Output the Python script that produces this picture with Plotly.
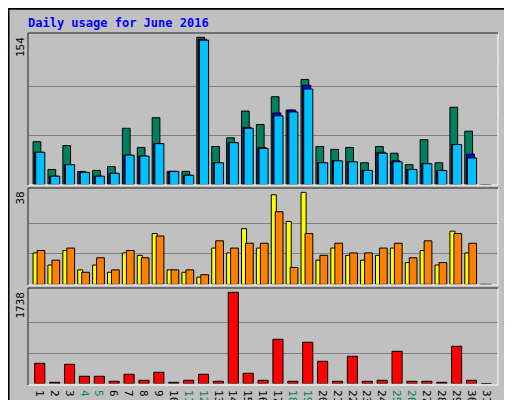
import plotly.graph_objects as go
from plotly.subplots import make_subplots

days = list(range(1, 32))
hits =  [45,16,41,14,15,19,59,39,70,14,14,154,40,49,77,63,92,78,110,40,37,39,23,40,33,21,47,23,81,56,0]
files = [34,9,21,13,9,12,31,30,43,14,10,152,23,44,60,39,75,78,104,23,25,24,15,34,25,16,22,15,42,32,0]
pages = [34,9,21,13,9,12,31,30,43,14,10,151,23,44,59,38,72,76,100,23,25,24,15,33,24,16,22,15,42,28,0]
visits = [13,8,14,6,8,5,13,12,21,6,5,3,15,13,23,15,37,26,38,10,15,12,10,12,15,9,14,8,22,13,0]
sites =  [14,10,15,5,11,6,14,11,20,6,6,4,18,15,17,17,30,7,21,12,17,13,13,15,17,11,18,9,21,17,0]
kbytes = [387,25,368,140,140,44,178,63,216,25,63,178,44,1738,197,63,844,44,787,425,44,520,44,63,615,44,44,25,710,63,0]
weekend = [4,5,11,12,18,19,25,26]
maxes = ["154", "38", "1738"]
title = "Daily usage for June 2016"

GREEN = "#00805C"
fig = make_subplots(rows=3, cols=1, shared_xaxes=True)
ln = dict(color="black", width=1)
def bar(y, color, off, w, row):
    fig.add_trace(go.Bar(x=days, y=y, offset=off, width=w, marker=dict(color=color, line=ln),
                         showlegend=False, hoverinfo="skip"), row=row, col=1)
bar(hits, GREEN, -0.56, 0.52, 1)
bar(files, "#0000FF", -0.46, 0.55, 1)
bar(pages, "#00C0FF", -0.38, 0.61, 1)
bar(visits, "#FFFF00", -0.56, 0.34, 2)
bar(sites, "#FF8000", -0.29, 0.52, 2)
bar(kbytes, "#FF0000", -0.45, 0.68, 3)

F = "DejaVu Sans Mono"
ticktext = [f'<span style="color:{GREEN if d in weekend else "black"}">{d}</span>' for d in days]
fig.update_layout(width=512, height=400, margin=dict(l=0, r=0, t=0, b=0),
                  paper_bgcolor="#C0C0C0", plot_bgcolor="#C0C0C0", barmode="overlay",
                  font=dict(family=F, size=11, color="black"))
ranges = [158.5, 39.8, 1820]
doms = [[0.558, 0.9375], [0.309, 0.55], [0.061, 0.3]]
for i in range(3):
    top = float(maxes[i])
    fig.update_yaxes(row=i+1, col=1, range=[0, ranges[i]], domain=doms[i],
                     tickvals=[top/3, 2*top/3], showticklabels=False, gridcolor="#808080",
                     gridwidth=1, zeroline=False, showline=False, ticks="")
    fig.update_xaxes(row=i+1, col=1, range=[0.1, 31.67], domain=[20/512, 490/512],
                     showgrid=False, zeroline=False,
                     showline=False, ticks="", tickvals=days, ticktext=ticktext,
                     showticklabels=(i == 2), tickfont=dict(family=F, size=11))

shapes = []
for (y0, y1) in [(25, 177), (180, 277), (280, 377)]:
    shapes.append(dict(type="rect", xref="paper", yref="paper", x0=20/512, x1=490/512,
                       y0=1-y1/400, y1=1-y0/400, line=dict(color="white", width=1)))
    shapes.append(dict(type="line", xref="paper", yref="paper", x0=20/512, x1=490/512,
                       y0=1-y0/400, y1=1-y0/400, line=dict(color="black", width=1)))
    shapes.append(dict(type="line", xref="paper", yref="paper", x0=20/512, x1=20/512,
                       y0=1-y1/400, y1=1-y0/400, line=dict(color="black", width=1)))
shapes.append(dict(type="rect", xref="paper", yref="paper", x0=0.001, x1=0.999, y0=0.002, y1=0.998,
                   line=dict(color="black", width=2)))
shapes.append(dict(type="line", xref="paper", yref="paper", x0=0.004, x1=0.996, y0=0.006, y1=0.006,
                   line=dict(color="#808080", width=3)))
shapes.append(dict(type="line", xref="paper", yref="paper", x0=0.996, x1=0.996, y0=0.006, y1=0.994,
                   line=dict(color="#808080", width=3)))
fig.update_layout(shapes=shapes)

ann = [dict(text=f"<b>{title}</b>", x=18/512, y=1-15/400, xref="paper", yref="paper",
            xanchor="left", yanchor="middle", showarrow=False,
            font=dict(family=F, size=12, color="#0000FF"))]
for i, ypx in enumerate([27, 182, 282]):
    ann.append(dict(text=maxes[i], x=12/512, y=1-ypx/400, xref="paper", yref="paper",
                    xanchor="center", yanchor="top", textangle=-90, showarrow=False,
                    font=dict(family=F, size=11, color="black")))
right = [
    ('<span style="color:#00C0FF">Pages</span> / <span style="color:#0000FF">Files</span> / '
     f'<span style="color:{GREEN}">Hits</span>', 27),
    ('<span style="color:#FF8000">Sites</span> / <span style="color:#FFFF00">Visits</span>', 182),
    ('<span style="color:#FF0000">KBytes</span>', 282),
]
for t, ypx in right:
    ann.append(dict(text=t, x=500/512, y=1-ypx/400, xref="paper", yref="paper",
                    xanchor="center", yanchor="top", textangle=-90, showarrow=False,
                    font=dict(family=F, size=11, color="black")))
fig.update_layout(annotations=ann)
fig.write_html("out.html")
